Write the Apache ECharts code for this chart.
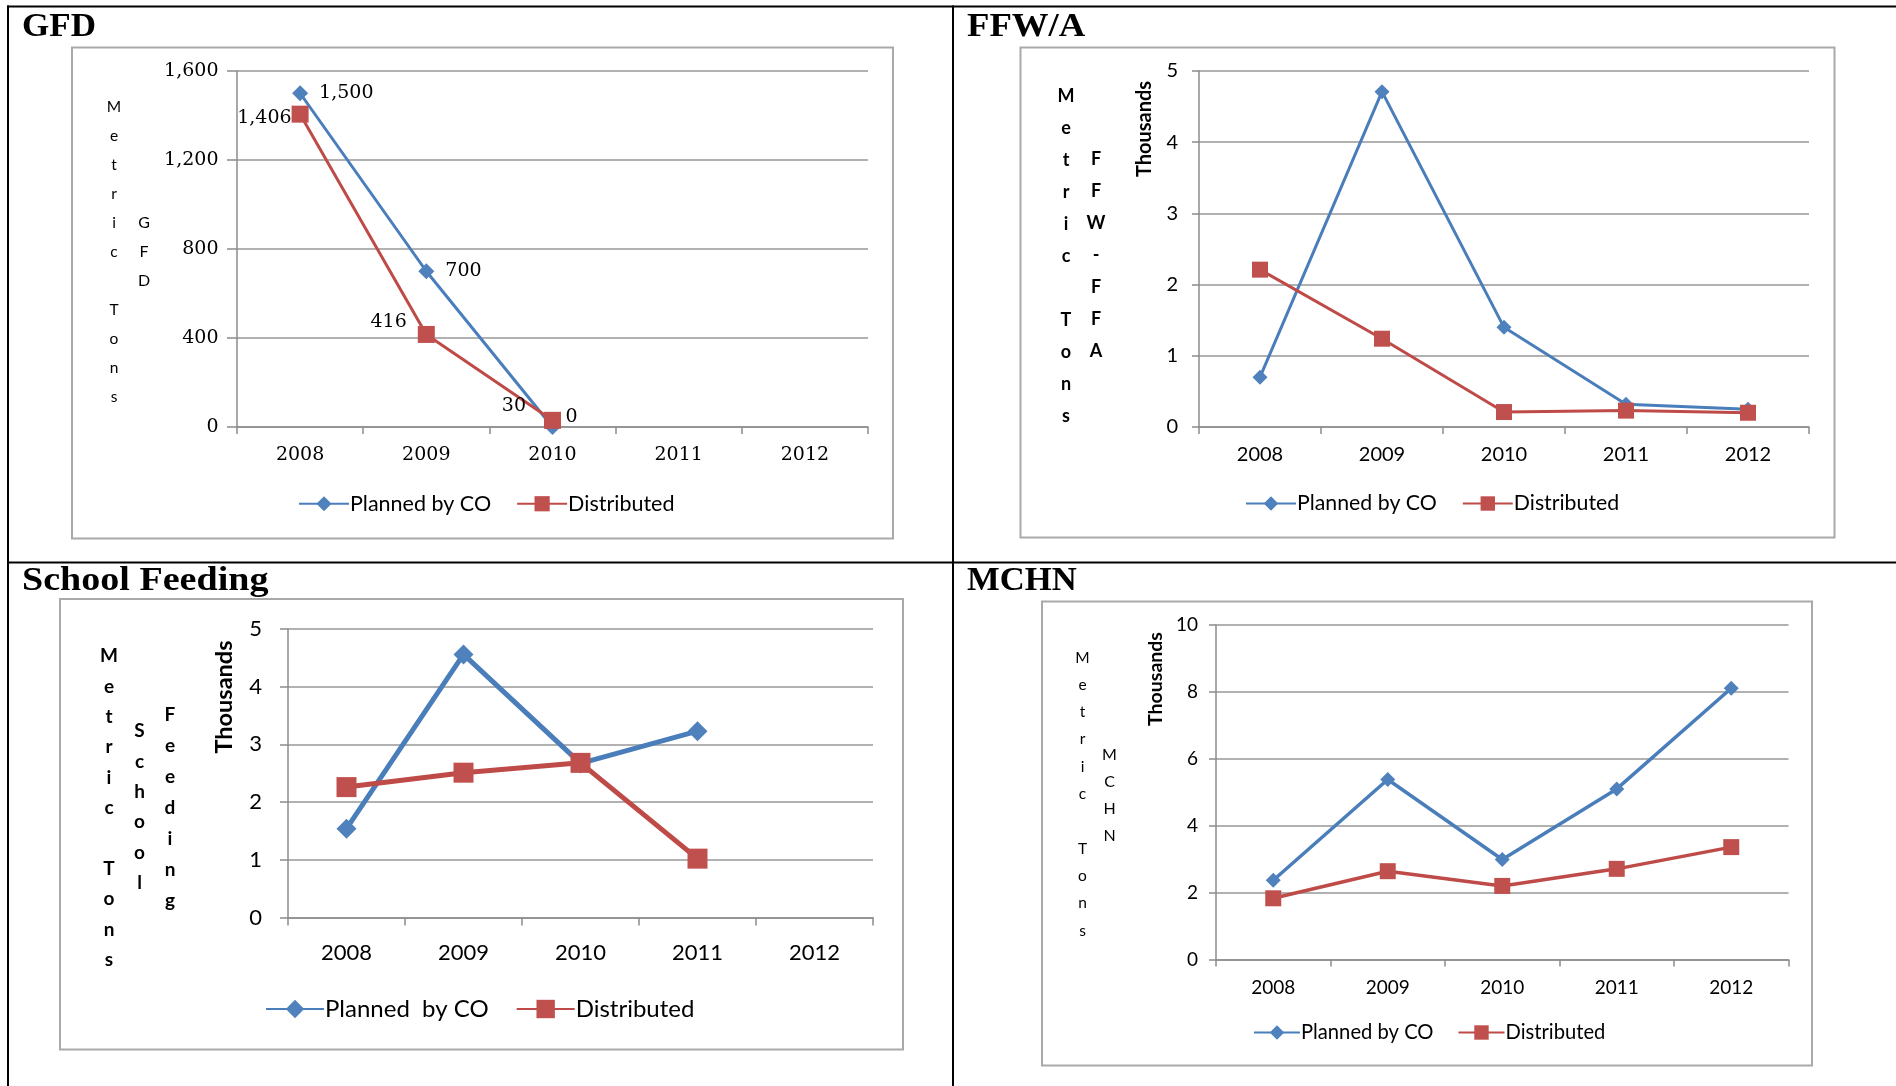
<!DOCTYPE html>
<html>
<head>
<meta charset="utf-8">
<script src="https://cdn.jsdelivr.net/npm/echarts@6/dist/echarts.min.js"></script>
<style>
html,body{margin:0;padding:0;background:#fff;}
#c{width:1896px;height:1086px;}
</style>
</head>
<body>
<div id="c"></div>
<script>
// ---- data ----
const years = ['2008', '2009', '2010', '2011', '2012'];
const gfdPlanned = [1500, 700, 0, null, null];
const gfdDistributed = [1406, 416, 30, null, null];
const ffwPlanned = [700, 4710, 1400, 320, 250];
const ffwDistributed = [2210, 1240, 210, 230, 200];
const sfPlanned = [1540, 4560, 2670, 3230, null];
const sfDistributed = [2260, 2510, 2680, 1020, null];
const mchnPlanned = [2370, 5380, 2990, 5100, 8110];
const mchnDistributed = [1830, 2640, 2200, 2710, 3360];
const legendNames = ['Planned by CO', 'Distributed'];
const sfLegendNames = ['Planned  by CO', 'Distributed'];
const panelTitles = ['GFD', 'FFW/A', 'School Feeding', 'MCHN'];
const sideTitles = [['Metric Tons', 'GFD'], ['Metric Tons', 'FFW-FFA'], ['Metric Tons', 'School', 'Feeding'], ['Metric Tons', 'MCHN']];
const unitLabel = 'Thousands';

// ---- layout / styles ----
const BLUE_L = '#4A7EBB', BLUE_M = '#4F81BD', RED_L = '#BE4B48', RED_M = '#C0504D';
const SANS = 'Lato, "Noto Sans", sans-serif';
const SERIF = '"DejaVu Serif", serif';

const panels = [
  { key: 'gfd', planned: gfdPlanned, dist: gfdDistributed, names: legendNames,
    grid: {left: 237, top: 71, width: 631, height: 356}, max: 1600, interval: 400,
    fmt: v => v.toLocaleString('en-US'), font: SERIF, fs: 19, xMargin: 18.5, yMargin: 18.5, yTick: 10, xTick: 7,
    lw: 3, dSize: 16, rSize: 17,
    legend: {left: 298, cy: 503.5, fs: 21.5, w: 50, gap: 25, ih: 19},
    title: {x: 22, y: 27, sx: 1.03}, box: [72, 47.5, 821, 491],
    vtexts: [{x: 114, y0: 107, lh: 29, fs: 15.5, fw: 'normal'}, {x: 144, y0: 223, lh: 29, fs: 16, fw: 'normal'}],
    thousands: null, labels: true },
  { key: 'ffw', planned: ffwPlanned, dist: ffwDistributed, names: legendNames,
    grid: {left: 1199, top: 71, width: 610, height: 356}, max: 5000, interval: 1000,
    fmt: v => String(v / 1000), font: SANS, fs: 20, xMargin: 18, yMargin: 21, yTick: 7, xTick: 7,
    lw: 3, dSize: 15, rSize: 16,
    legend: {left: 1245, cy: 503.5, fs: 21.3, w: 50, gap: 25, ih: 18},
    title: {x: 967, y: 27, sx: 1.08}, box: [1020.5, 47.5, 814, 490],
    vtexts: [{x: 1066, y0: 96, lh: 32, fs: 18, fw: 'bold'}, {x: 1096, y0: 159, lh: 32, fs: 18, fw: 'bold'}],
    thousands: {x: 1145, y: 129, fs: 20}, labels: false },
  { key: 'sf', planned: sfPlanned, dist: sfDistributed, names: sfLegendNames,
    grid: {left: 288, top: 629, width: 585, height: 288.5}, max: 5000, interval: 1000,
    fmt: v => String(v / 1000), font: SANS, fs: 22, xMargin: 24.5, yMargin: 26, yTick: 8, xTick: 8,
    lw: 5, dSize: 20, rSize: 20,
    legend: {left: 265, cy: 1009, fs: 24, w: 58, gap: 27, ih: 23},
    title: {x: 22, y: 581, sx: 1.12}, box: [60, 599, 843, 450.5],
    vtexts: [{x: 109, y0: 656, lh: 30.4, fs: 19, fw: 'bold'}, {x: 139.5, y0: 731, lh: 30.4, fs: 19, fw: 'bold'}, {x: 170, y0: 715, lh: 31, fs: 19, fw: 'bold'}],
    thousands: {x: 224.5, y: 697, fs: 23.5}, labels: false },
  { key: 'mchn', planned: mchnPlanned, dist: mchnDistributed, names: legendNames,
    grid: {left: 1216, top: 625, width: 572.5, height: 334.5}, max: 10000, interval: 2000,
    fmt: v => String(v / 1000), font: SANS, fs: 19, xMargin: 19, yMargin: 18, yTick: 7, xTick: 7,
    lw: 3.5, dSize: 15, rSize: 16,
    legend: {left: 1253, cy: 1032.5, fs: 20.2, w: 46, gap: 24, ih: 18},
    title: {x: 967, y: 581, sx: 1.02}, box: [1042, 601.5, 770, 464],
    vtexts: [{x: 1082.5, y0: 657.5, lh: 27.3, fs: 15.5, fw: 'normal'}, {x: 1109.5, y0: 755, lh: 27.1, fs: 16, fw: 'normal'}],
    thousands: {x: 1156, y: 679, fs: 19.5}, labels: false }
];

// GFD data-label placement (layout only)
const gfdPlannedLbl = [{distance: 11}, {distance: 11}, {distance: 5, offset: [0, -10]}];
const gfdDistLbl = [{distance: 0, offset: [0, 4]}, {distance: 11, offset: [0, -12]}, {distance: 18, offset: [0, -14]}];

const grids = [], xAxes = [], yAxes = [], series = [], legends = [], graphics = [];

// outer frame lines
[[7, 6.5, 1896, 6.5], [8, 5.5, 8, 1086], [953, 5.5, 953, 1086], [7, 562.5, 1896, 562.5]].forEach(l => {
  graphics.push({type: 'line', shape: {x1: l[0], y1: l[1], x2: l[2], y2: l[3]}, style: {stroke: '#000', lineWidth: 2}, z: 10});
});

panels.forEach((p, i) => {
  grids.push(Object.assign({containLabel: false}, p.grid));
  xAxes.push({
    type: 'category', gridIndex: i, data: years, boundaryGap: true,
    axisLine: {show: true, lineStyle: {color: '#8c8c8c', width: 1.5}},
    axisTick: {show: true, length: p.xTick, lineStyle: {color: '#8c8c8c', width: 1.5}},
    axisLabel: {color: '#000', fontFamily: p.font, fontSize: p.fs, lineHeight: p.fs, margin: p.xMargin},
    splitLine: {show: false}
  });
  yAxes.push({
    type: 'value', gridIndex: i, min: 0, max: p.max, interval: p.interval,
    axisLine: {show: true, lineStyle: {color: '#8c8c8c', width: 1.5}},
    axisTick: {show: true, length: p.yTick, lineStyle: {color: '#8c8c8c', width: 1.5}},
    axisLabel: {color: '#000', fontFamily: p.font, fontSize: p.fs, margin: p.yMargin, formatter: p.fmt},
    splitLine: {show: true, lineStyle: {color: '#979797', width: 1.5}}
  });
  const nP = p.key + '|' + p.names[0], nD = p.key + '|' + p.names[1];
  const mkData = (arr, lbls, pos) => arr.map((v, k) => {
    if (v == null) return null;
    if (!p.labels) return v;
    const L = lbls[k] || {};
    return {value: v, label: {show: true, position: pos, distance: L.distance, offset: L.offset || [0, 0],
      fontFamily: SERIF, fontSize: 19, color: '#000', formatter: d => d.value.toLocaleString('en-US')}};
  });
  series.push({
    type: 'line', name: nP, xAxisIndex: i, yAxisIndex: i,
    data: mkData(p.planned, gfdPlannedLbl, 'right'),
    symbol: 'diamond', symbolSize: p.dSize, connectNulls: false,
    lineStyle: {color: BLUE_L, width: p.lw}, itemStyle: {color: BLUE_M},
    emphasis: {disabled: true}, animation: false, z: 3
  });
  series.push({
    type: 'line', name: nD, xAxisIndex: i, yAxisIndex: i,
    data: mkData(p.dist, gfdDistLbl, 'left'),
    symbol: 'rect', symbolSize: p.rSize, connectNulls: false,
    lineStyle: {color: RED_L, width: p.lw}, itemStyle: {color: RED_M},
    emphasis: {disabled: true}, animation: false, z: 4
  });
  const rowH = Math.max(p.legend.ih, p.legend.fs);
  legends.push({
    data: [nP, nD], left: p.legend.left, top: p.legend.cy - rowH / 2, orient: 'horizontal',
    itemWidth: p.legend.w, itemHeight: p.legend.ih, itemGap: p.legend.gap, padding: 0,
    selectedMode: false,
    formatter: n => n.split('|')[1],
    textStyle: {fontFamily: SANS, fontSize: p.legend.fs, color: '#000', lineHeight: p.legend.fs, padding: [0, 0, 0, -4]}
  });
  // chart-area box
  graphics.push({type: 'rect', shape: {x: p.box[0], y: p.box[1], width: p.box[2], height: p.box[3]},
    style: {fill: null, stroke: '#a9a9a9', lineWidth: 2}, z: 1});
  // panel title
  graphics.push({type: 'text', x: p.title.x, y: p.title.y, scaleX: p.title.sx,
    style: {text: panelTitles[i], font: 'bold 34px "Liberation Serif", serif', fill: '#000', textAlign: 'left', textVerticalAlign: 'middle'}, z: 10});
  // vertical side titles
  p.vtexts.forEach((vt, k) => {
    const chars = sideTitles[i][k].split('').map(c => c === ' ' ? '' : c).join('\n');
    graphics.push({type: 'text', x: vt.x, y: vt.y0 - vt.lh / 2,
      style: {text: chars, font: vt.fw + ' ' + vt.fs + 'px Lato, sans-serif', lineHeight: vt.lh, fill: '#000',
        textAlign: 'center', textVerticalAlign: 'top'}, z: 10});
  });
  if (p.thousands) {
    graphics.push({type: 'text', x: p.thousands.x, y: p.thousands.y, rotation: Math.PI / 2,
      style: {text: unitLabel, font: 'bold ' + p.thousands.fs + 'px Lato, sans-serif', fill: '#000',
        textAlign: 'center', textVerticalAlign: 'middle'}, z: 10});
  }
});

const chart = echarts.init(document.getElementById('c'), null, {renderer: 'canvas'});
chart.setOption({
  backgroundColor: '#fff',
  animation: false,
  grid: grids, xAxis: xAxes, yAxis: yAxes, series: series, legend: legends,
  graphic: {elements: graphics}
});
</script>
</body>
</html>
